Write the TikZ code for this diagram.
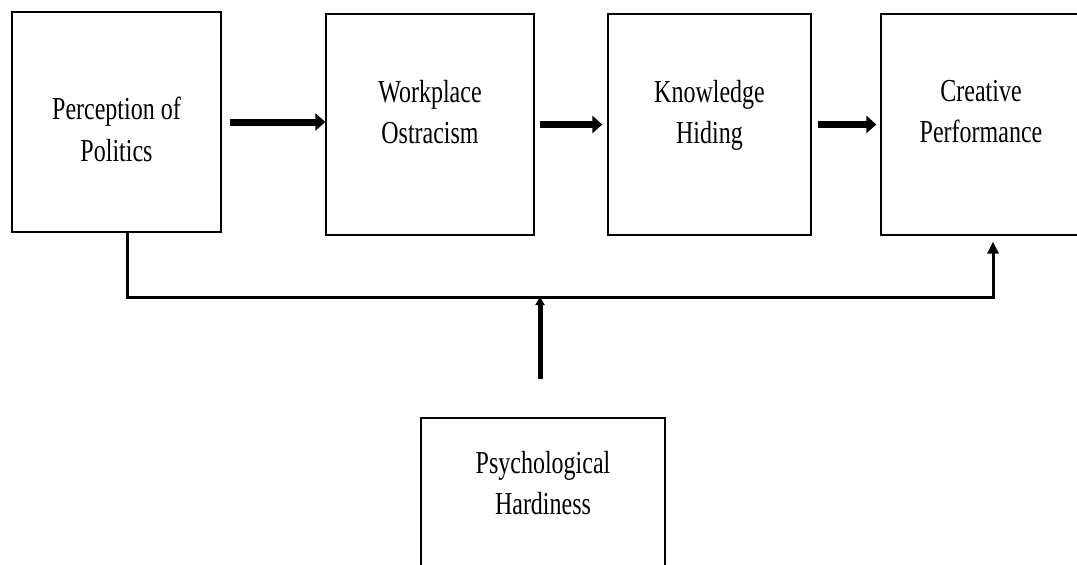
\documentclass[tikz,border=0pt]{standalone}
\usepackage{fontspec}
\setmainfont{Liberation Serif}[FakeStretch=0.75]
\usetikzlibrary{arrows.meta}
\newcommand{\boxtxt}[4]{\parbox[c][#1][t]{#2}{\centering\vspace*{#3}#4\par}}
\begin{document}
\begin{tikzpicture}[x=1pt,y=-1pt,
  vbox/.style={draw=black, line width=1.3pt, inner sep=0pt, fill=white,
    font=\fontsize{32}{41.5}\selectfont},
  fat/.style={line width=7pt, -{Triangle[length=10pt,width=17pt]}},
  conn/.style={line width=3pt, -{Triangle[length=12pt,width=11pt]}},
  modarrow/.style={line width=5pt, -{Triangle[length=8pt,width=9pt]}}]
\useasboundingbox[fill=white] (0,0) rectangle (1077,565);
\node[vbox] (pop) at (116.5,122) {\boxtxt{220pt}{209pt}{85pt}{Perception of\\Politics}};
\node[vbox] (wo) at (430,124.5) {\boxtxt{221pt}{208pt}{66pt}{Workplace\\Ostracism}};
\node[vbox] (kh) at (709.5,124.5) {\boxtxt{221pt}{203pt}{66pt}{Knowledge\\Hiding}};
\node[vbox] (cp) at (981,124.5) {\boxtxt{221pt}{200pt}{66pt}{Creative\\Performance}};
\node[vbox] (ph) at (543,498) {\boxtxt{160pt}{244pt}{33pt}{Psychological\\Hardiness}};
\coordinate (bl) at (127,297);
\coordinate (br) at (993,297);
\coordinate (mid) at (540,297);
\draw[fat] ([xshift=8pt]pop.east) -- (pop.east -| wo.west);
\draw[fat, shorten >=5pt] ([xshift=5pt]wo.east) -- (wo.east -| kh.west);
\draw[fat, shorten >=4pt] ([xshift=6pt]kh.east) -- (kh.east -| cp.west);
\draw[conn, shorten >=6pt] (bl |- pop.south) -- (bl) -- (br) -- (br |- cp.south);
\draw[modarrow] ([yshift=38pt]mid |- ph.north) -- (mid);
\end{tikzpicture}
\end{document}
